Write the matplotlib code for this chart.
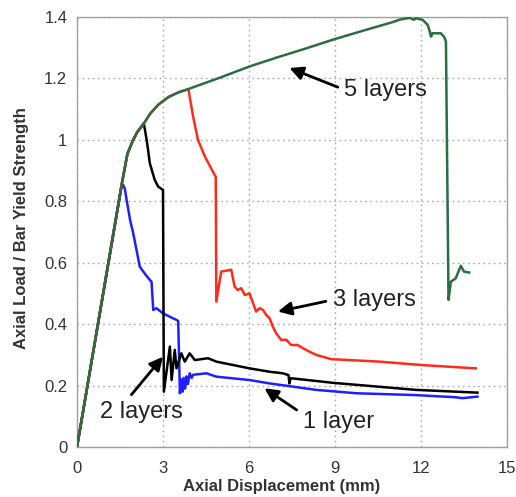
import matplotlib
matplotlib.use("Agg")
import matplotlib.pyplot as plt

plt.rcParams['font.family'] = ['Liberation Sans', 'DejaVu Sans']

# ---- data ----
x5 = [0, 1.55, 1.65, 1.76, 1.96, 2.10, 2.31, 2.55, 2.83, 3.20, 3.55, 3.87, 5.0, 6.02, 7.0, 8.0, 8.92,
      10.0, 11.0, 11.24, 11.59, 11.76, 11.82, 12.05, 12.23, 12.29, 12.35, 12.40, 12.69, 12.81, 12.87,
      12.96, 13.04, 13.21, 13.39, 13.50, 13.68]
y5 = [0, 0.85, 0.90, 0.955, 1.00, 1.025, 1.05, 1.085, 1.114, 1.14, 1.155, 1.165, 1.203, 1.239, 1.269, 1.298, 1.326,
      1.356, 1.383, 1.391, 1.397, 1.391, 1.396, 1.391, 1.375, 1.358, 1.336, 1.347, 1.347, 1.335, 1.32,
      0.479, 0.538, 0.549, 0.590, 0.571, 0.568]

x3 = [0, 1.55, 1.65, 1.76, 1.96, 2.10, 2.31, 2.55, 2.83, 3.20, 3.55, 3.89, 3.93, 4.05, 4.22, 4.34, 4.46,
      4.80, 4.84, 4.86, 5.03, 5.38, 5.50, 5.61, 5.73, 5.85, 6.02, 6.14, 6.25, 6.37, 6.49, 6.60, 6.72,
      6.83, 6.95, 7.12, 7.30, 7.47, 7.70, 7.99, 8.34, 8.87, 10.55, 12.0, 13.91]
y3 = [0, 0.85, 0.90, 0.955, 1.00, 1.025, 1.05, 1.085, 1.114, 1.14, 1.155, 1.165, 1.141, 1.076, 1.00, 0.973, 0.946,
      0.886, 0.880, 0.473, 0.571, 0.577, 0.522, 0.511, 0.517, 0.495, 0.500, 0.468, 0.441, 0.452, 0.446, 0.430, 0.419,
      0.392, 0.370, 0.349, 0.349, 0.332, 0.332, 0.316, 0.300, 0.286, 0.278, 0.267, 0.256]

x2 = [0, 1.55, 1.65, 1.76, 1.96, 2.10, 2.33, 2.43, 2.48, 2.54, 2.71, 2.83, 3.00, 3.03, 3.24, 3.30,
      3.41, 3.47, 3.64, 3.76, 3.93, 4.11, 4.57, 4.86, 6.02, 6.72, 7.18, 7.38, 7.41, 7.45, 8.92, 11.82, 13.97]
y2 = [0, 0.85, 0.90, 0.955, 1.00, 1.025, 1.054, 1.00, 0.967, 0.924, 0.870, 0.848, 0.837, 0.180, 0.327, 0.218,
      0.316, 0.256, 0.305, 0.278, 0.305, 0.283, 0.289, 0.278, 0.256, 0.245, 0.240, 0.234, 0.207, 0.224, 0.209, 0.186, 0.177]

x1 = [0, 1.55, 1.61, 1.67, 1.73, 1.85, 1.96, 2.08, 2.19, 2.40, 2.54, 2.60, 2.66, 2.77,
      3.00, 3.35, 3.47, 3.53, 3.59, 3.63, 3.68, 3.72, 3.77, 3.82, 3.87, 3.93, 4.00, 4.05, 4.51, 4.86,
      6.02, 6.72, 8.34, 9.74, 11.82, 13.20, 13.45, 13.97]
y1 = [0, 0.845, 0.853, 0.840, 0.805, 0.740, 0.696, 0.640, 0.587, 0.560, 0.544, 0.538, 0.446, 0.452,
      0.435, 0.419, 0.414, 0.410, 0.175, 0.220, 0.180, 0.225, 0.190, 0.230, 0.205, 0.240, 0.225, 0.235, 0.240, 0.229,
      0.218, 0.207, 0.186, 0.175, 0.169, 0.162, 0.159, 0.164]

xticks = [0, 3, 6, 9, 12, 15]
yticks = [0, 0.2, 0.4, 0.6, 0.8, 1.0, 1.2, 1.4]
yticklabels = ['0', '0.2', '0.4', '0.6', '0.8', '1', '1.2', '1.4']

# ---- figure ----
fig = plt.figure(figsize=(5.16, 4.97), dpi=100)
ax = fig.add_axes([77/516, 1-447/497, 430/516, 430/497])

lw = 1.8
ax.plot(x1, y1, color='#1f1fff', lw=lw, zorder=3)
ax.plot(x2, y2, color='black', lw=lw, zorder=3)
ax.plot(x3, y3, color='#ff2a1a', lw=lw, zorder=4)
ax.plot(x5, y5, color='#2b6e3f', lw=lw, zorder=5)

ax.set_xlim(0, 15)
ax.set_ylim(0, 1.4)
ax.set_xticks(xticks)
ax.set_yticks(yticks)
ax.set_yticklabels(yticklabels)
ax.tick_params(length=0, labelsize=12, colors='#333333')
ax.tick_params(axis='x', pad=10)
ax.tick_params(axis='y', pad=7)
ax.grid(True, color='#aaaaaa', linestyle=(0, (1.2, 2.5)), lw=1)
ax.set_axisbelow(True)
for s in ax.spines.values():
    s.set_color('#a0a0a0')
    s.set_linewidth(1)

ax.set_xlabel('Axial Displacement (mm)', fontsize=12, fontweight='bold', color='#333333', va='center')
ax.xaxis.set_label_coords(0.476, -0.092)
ax.set_ylabel('Axial Load / Bar Yield Strength', fontsize=12, fontweight='bold', color='#333333', va='center')
ax.yaxis.set_label_coords(-0.129, 0.509)

arrow = dict(arrowstyle='-|>', color='black', lw=2, mutation_scale=20, shrinkA=3, shrinkB=0)
tfs = 17
ax.annotate('5 layers', xy=(7.41, 1.234), xytext=(9.33, 1.163), fontsize=tfs, color='#222222',
            ha='left', va='center', arrowprops=dict(arrow, relpos=(0, 0.5)))
ax.annotate('3 layers', xy=(7.01, 0.441), xytext=(8.92, 0.479), fontsize=tfs, color='#222222',
            ha='left', va='center', arrowprops=dict(arrow, relpos=(0, 0.5)))
ax.annotate('1 layer', xy=(6.54, 0.191), xytext=(7.88, 0.082), fontsize=tfs, color='#222222',
            ha='left', va='center', arrowprops=dict(arrow, relpos=(0, 0.85)))
ax.annotate('2 layers', xy=(3.0, 0.294), xytext=(0.80, 0.115), fontsize=tfs, color='#222222',
            ha='left', va='center', arrowprops=dict(arrow, relpos=(0.32, 1.0)))

fig.savefig('out.png', dpi=100)
